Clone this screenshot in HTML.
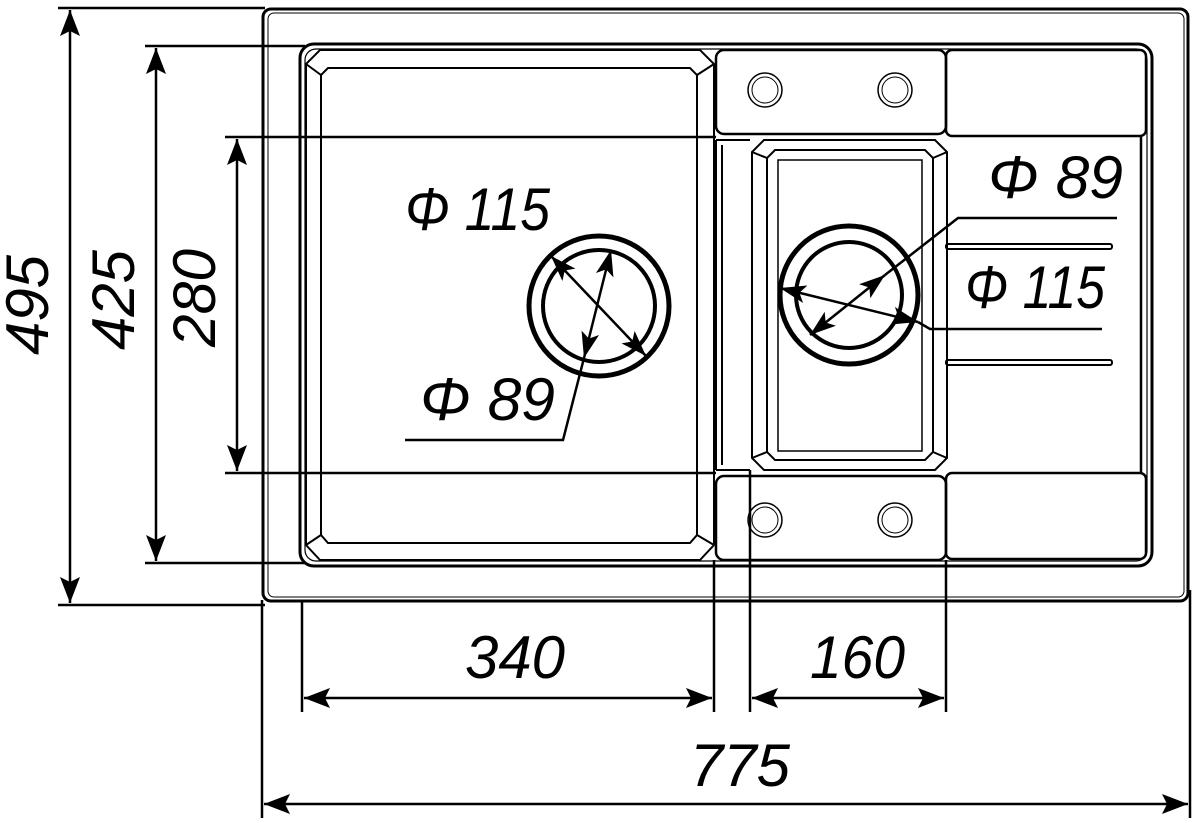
<!DOCTYPE html>
<html><head><meta charset="utf-8"><style>
html,body{margin:0;padding:0;background:#fff;}
svg{display:block}
text{font-family:"Liberation Sans",sans-serif;font-style:italic;fill:#000;}
</style></head><body>
<svg id="s" width="1200" height="823" viewBox="0 0 1200 823" xmlns="http://www.w3.org/2000/svg">
<g fill="none" stroke="#000">
<rect x="263" y="9" width="925" height="592" rx="8" stroke-width="3"/>
<rect x="268" y="13" width="916" height="584" rx="6" stroke-width="1"/>
<rect x="300" y="44" width="852" height="522" rx="14" stroke-width="3"/>
<rect x="305" y="49" width="842" height="512" rx="11" stroke-width="1.2"/>
<path d="M320,50 H700 L714,64 V545 L700,560 H320 L306,545 V64 Z" stroke-width="2"/>
<path d="M328,68 H690 L697,75 V535 L690,543 H328 L321,535 V75 Z" stroke-width="2"/>
<path d="M306,64 L321,75 M714,64 L697,75 M306,545 L321,535 M714,545 L697,535" stroke-width="2"/>
<rect x="716" y="50" width="230" height="84" rx="8" stroke-width="2.5"/>
<rect x="716" y="476" width="230" height="84" rx="8" stroke-width="2.5"/>
<rect x="946" y="50" width="200" height="86" rx="6" stroke-width="2.5"/>
<rect x="946" y="473" width="200" height="86" rx="6" stroke-width="2.5"/>
<circle cx="765" cy="90" r="17" stroke-width="1.5"/><circle cx="765" cy="90" r="13" stroke-width="1"/>
<circle cx="895" cy="90" r="17" stroke-width="1.5"/><circle cx="895" cy="90" r="13" stroke-width="1"/>
<circle cx="765" cy="520" r="17" stroke-width="1.5"/><circle cx="765" cy="520" r="13" stroke-width="1"/>
<circle cx="895" cy="520" r="17" stroke-width="1.5"/><circle cx="895" cy="520" r="13" stroke-width="1"/>
<path d="M716,140 H750 M716,470 H750 M716,140 V470 M722,145 V465" stroke-width="2"/>
<path d="M764,140 H935 L947,152 V458 L935,470 H764 L752,458 V152 Z" stroke-width="2"/>
<path d="M775,150 H925 L933,158 V452 L925,460 H775 L767,452 V158 Z" stroke-width="2"/>
<rect x="778" y="160" width="144" height="291" stroke-width="1.5"/>
<path d="M752,152 L767,158 M947,152 L933,158 M752,458 L767,452 M947,458 L933,452" stroke-width="2"/>
<line x1="1141" y1="136" x2="1141" y2="473" stroke-width="2.5"/>
<rect x="946" y="244" width="166" height="5" rx="2" stroke-width="2"/>
<rect x="946" y="360" width="166" height="5" rx="2" stroke-width="2"/>
<circle cx="599" cy="306" r="70" stroke-width="5"/>
<circle cx="599" cy="306" r="56" stroke-width="4"/>
<circle cx="849" cy="295" r="69" stroke-width="5"/>
<circle cx="849" cy="295" r="53" stroke-width="4"/>
<g stroke-width="2.5">
<line x1="58" y1="8" x2="265" y2="8"/>
<line x1="58" y1="605" x2="265" y2="605"/>
<line x1="145" y1="46" x2="305" y2="46"/>
<line x1="145" y1="563" x2="305" y2="563"/>
<line x1="225" y1="137" x2="716" y2="137"/>
<line x1="225" y1="473" x2="716" y2="473"/>
<line x1="302" y1="600" x2="302" y2="712"/>
<line x1="714" y1="560" x2="714" y2="712"/>
<line x1="750" y1="470" x2="750" y2="712"/>
<line x1="946" y1="560" x2="946" y2="712"/>
<line x1="262" y1="600" x2="262" y2="818"/>
<line x1="1190" y1="590" x2="1190" y2="818"/>
<polyline points="584,358 563,440 405,440"/>
<polyline points="885,275 958,218 1117,218"/>
<polyline points="918,322 930,329 1102,329"/>
<line x1="70" y1="10" x2="70" y2="603"/>
<line x1="156" y1="48" x2="156" y2="561"/>
<line x1="237" y1="139" x2="237" y2="471"/>
<line x1="304" y1="698" x2="712" y2="698"/>
<line x1="752" y1="698" x2="944" y2="698"/>
<line x1="264" y1="804" x2="1188" y2="804"/>
<line x1="551" y1="256" x2="646" y2="356"/>
<line x1="611" y1="250" x2="584" y2="358"/>
<line x1="780" y1="288" x2="918" y2="322"/>
<line x1="885" y1="275" x2="810" y2="335"/>
</g>
</g>
<g fill="#000">
<polygon points="70,10 60,36 70,31 80,36"/><polygon points="70,603 60,577 70,582 80,577"/>
<polygon points="156,48 146,74 156,69 166,74"/><polygon points="156,561 146,535 156,540 166,535"/>
<polygon points="237,139 227,165 237,160 247,165"/><polygon points="237,471 227,445 237,450 247,445"/>
<polygon points="304,698 330,688 325,698 330,708"/><polygon points="712,698 686,688 691,698 686,708"/>
<polygon points="752,698 778,688 773,698 778,708"/><polygon points="944,698 918,688 923,698 918,708"/>
<polygon points="264,804 290,794 285,804 290,814"/><polygon points="1188,804 1162,794 1167,804 1162,814"/>
</g>
<g fill="#000" id="ah"></g>
<g font-size="60">
<text transform="translate(48,305) rotate(-90)" text-anchor="middle" textLength="100" lengthAdjust="spacingAndGlyphs">495</text>
<text transform="translate(134,300) rotate(-90)" text-anchor="middle" textLength="100" lengthAdjust="spacingAndGlyphs">425</text>
<text transform="translate(215,298) rotate(-90)" text-anchor="middle" textLength="98" lengthAdjust="spacingAndGlyphs">280</text>
<text x="465" y="678" textLength="100" lengthAdjust="spacingAndGlyphs">340</text>
<text x="810" y="678" textLength="95" lengthAdjust="spacingAndGlyphs">160</text>
<text x="690" y="786" textLength="100" lengthAdjust="spacingAndGlyphs">775</text>
<text x="405" y="230" textLength="145" lengthAdjust="spacingAndGlyphs">Φ 115</text>
<text x="420" y="420" textLength="135" lengthAdjust="spacingAndGlyphs">Φ 89</text>
<text x="988" y="198" textLength="135" lengthAdjust="spacingAndGlyphs">Φ 89</text>
<text x="965" y="308" textLength="140" lengthAdjust="spacingAndGlyphs">Φ 115</text>
</g>
</svg>
<script>
(function(){
var g=document.getElementById('ah');
var L=[[551,256,646,356],[611,250,584,358],[780,288,918,322],[885,275,810,335]];
function head(x,y,dx,dy){var l=Math.hypot(dx,dy);dx/=l;dy/=l;var px=-dy,py=dx,len=26,w=9;
var p=[x,y,x-dx*len+px*w,y-dy*len+py*w,x-dx*(len-6),y-dy*(len-6),x-dx*len-px*w,y-dy*len-py*w];
var e=document.createElementNS('http://www.w3.org/2000/svg','polygon');e.setAttribute('points',p.join(' '));g.appendChild(e);}
L.forEach(function(a){head(a[2],a[3],a[2]-a[0],a[3]-a[1]);head(a[0],a[1],a[0]-a[2],a[1]-a[3]);});
})();
</script>
</body></html>
